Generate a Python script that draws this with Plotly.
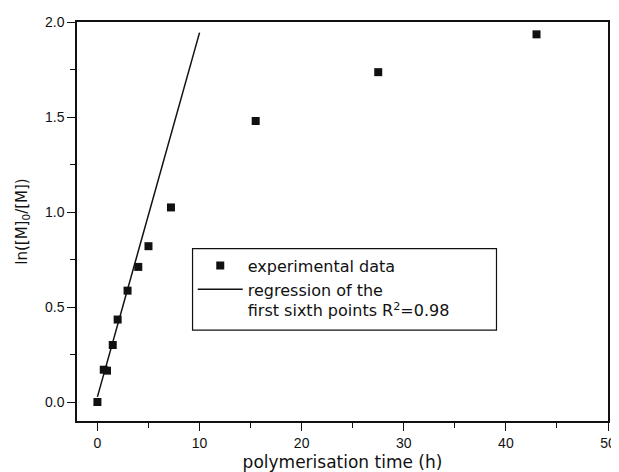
import plotly.graph_objects as go

# experimental data
time_h = [0, 0.62, 0.94, 1.5, 1.98, 2.95, 4.0, 5.0, 7.2, 15.5, 27.5, 43.0]
ln_ratio = [0.0, 0.17, 0.165, 0.30, 0.434, 0.586, 0.711, 0.82, 1.024, 1.479, 1.736, 1.935]

# regression line endpoints
fit_x = [0, 10]
fit_y = [0.027, 1.944]

x_ticks = [0, 10, 20, 30, 40, 50]
y_ticks = [0.0, 0.5, 1.0, 1.5, 2.0]

TICKFONT = "Arial, Liberation Sans, sans-serif"
TEXTFONT = "DejaVu Sans, Verdana, sans-serif"

fig = go.Figure()
fig.add_trace(go.Scatter(
    x=time_h, y=ln_ratio, mode="markers", name="experimental data",
    marker=dict(symbol="square", size=8, color="#111111"),
))
fig.add_trace(go.Scatter(
    x=fit_x, y=fit_y, mode="lines",
    name="regression of the<br>first sixth points R<sup>2</sup>=0.98",
    line=dict(color="#111111", width=1.5),
))

axis_common = dict(
    showgrid=False, zeroline=False, showline=True, mirror=True,
    linecolor="#111111", linewidth=1.5,
    ticks="outside", ticklen=8, tickwidth=1.2, tickcolor="#111111",
    tickfont=dict(family=TICKFONT, size=14, color="#111111"),
    automargin=False, ticklabeloverflow="allow",
)

fig.update_xaxes(
    range=[-2, 50], tickvals=x_ticks, ticktext=[str(v) for v in x_ticks],
    minor=dict(dtick=5, tick0=0, ticks="outside", ticklen=5, tickcolor="#111111", tickwidth=1),
    title=dict(text="polymerisation time (h)", font=dict(family=TEXTFONT, size=17, color="#111111"), standoff=13),
    **axis_common,
)
fig.update_yaxes(
    range=[-0.1, 2.0], tickvals=y_ticks, ticktext=[f"{v:.1f}" for v in y_ticks],
    minor=dict(dtick=0.25, tick0=0, ticks="outside", ticklen=5, tickcolor="#111111", tickwidth=1),
    title=dict(text="ln([M]<sub>0</sub>/[M])", font=dict(family=TEXTFONT, size=15, color="#111111"), standoff=14),
    **axis_common,
)

# legend frame drawn as a rectangle (paper coords)
fig.add_shape(type="rect", xref="paper", yref="paper",
              x0=0.2176, x1=0.790, y0=0.2276, y1=0.432,
              line=dict(color="#111111", width=1.2), fillcolor="rgba(0,0,0,0)")

# page body adds an 8px offset, so the figure is 8px smaller
fig.update_layout(
    width=611, height=464,
    margin=dict(l=69, r=11, t=14, b=51),
    paper_bgcolor="white", plot_bgcolor="white",
    font=dict(family=TEXTFONT, color="#111111"),
    showlegend=True,
    legend=dict(
        x=0.218, y=0.432, xanchor="left", yanchor="top",
        borderwidth=0, bgcolor="rgba(0,0,0,0)",
        font=dict(family=TEXTFONT, size=16, color="#111111"),
        valign="top", itemwidth=45, tracegroupgap=0,
    ),
)

fig.write_html("out.html")
